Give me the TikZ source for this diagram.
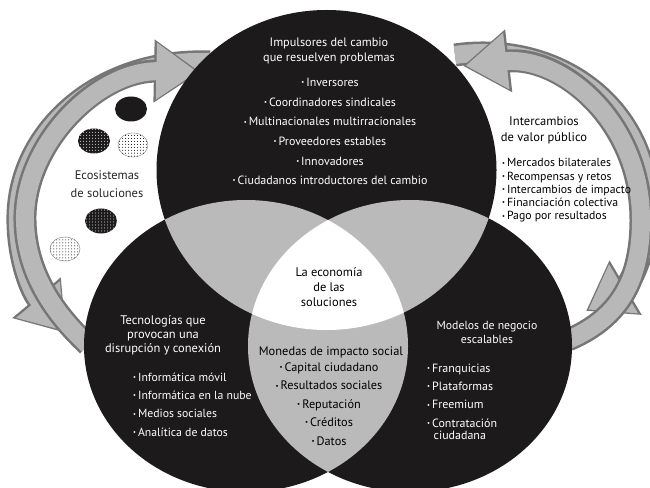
\documentclass[tikz,border=0pt]{standalone}
\usepackage{fontspec}
\setmainfont{PT Sans}
\usepackage{graphicx}
\usetikzlibrary{arrows.meta, positioning, patterns}
\definecolor{vennblack}{RGB}{28,26,27}
\definecolor{venngrey}{RGB}{186,186,186}
\definecolor{bandfill}{RGB}{184,184,184}
\definecolor{bandline}{RGB}{118,118,118}
\newcommand{\bul}{\raisebox{.3ex}{\scalebox{.55}{\textbullet}}\,}

\begin{document}
\begin{tikzpicture}[x=1bp, y=-1bp,
  band/.style={line width=23bp, draw=bandline, -{Triangle[width=60bp, length=46bp]}},
  bandin/.style={line width=18bp, draw=bandfill, shorten >=2.6bp, -{Triangle[width=54bp, length=41bp]}},
  ontop/.style={text=white, align=center, inner sep=0pt},
  onlight/.style={text=black, align=center, inner sep=0pt},
  title/.style={font=\fontsize{12.3}{15}\selectfont},
  items/.style={font=\fontsize{12}{19.7}\selectfont}]

\useasboundingbox[fill=white] (0,0) rectangle (650,488);

\coordinate (top) at (326.5,170);
\coordinate (left) at (246,346);
\coordinate (right) at (410,346);

% arrows behind the circles
\coordinate (lb1) at (210,62);
\coordinate (lb2) at (66,333);
\coordinate (la1) at (88,345);
\coordinate (la2) at (200,72);
\draw[band] (lb1) .. controls (100,58) and (20,130) .. (18,215) .. controls (17,255) and (30,290) .. (lb2);
\draw[bandin] (lb1) .. controls (100,58) and (20,130) .. (18,215) .. controls (17,255) and (30,290) .. (lb2);
\draw[band] (la1) .. controls (45,305) and (24,262) .. (25,215) .. controls (27,140) and (100,70) .. (la2);
\draw[bandin] (la1) .. controls (45,305) and (24,262) .. (25,215) .. controls (27,140) and (100,70) .. (la2);

\coordinate (rb1) at (455,55);
\coordinate (rb2) at (586,311);
\coordinate (ra1) at (568,340);
\coordinate (ra2) at (463,66);
\draw[band] (rb1) .. controls (560,40) and (650,110) .. (648,210) .. controls (648,250) and (630,285) .. (rb2);
\draw[bandin] (rb1) .. controls (560,40) and (650,110) .. (648,210) .. controls (648,250) and (630,285) .. (rb2);
\draw[band] (ra1) .. controls (615,320) and (641,285) .. (641,220) .. controls (641,120) and (560,55) .. (ra2);
\draw[bandin] (ra1) .. controls (615,320) and (641,285) .. (641,220) .. controls (641,120) and (560,55) .. (ra2);

% the three circles
\fill[vennblack] (top) ellipse [x radius=170bp, y radius=160bp];
\fill[vennblack] (left) ellipse [x radius=162bp, y radius=146bp];
\fill[vennblack] (right) ellipse [x radius=162bp, y radius=146bp];
\begin{scope}
  \clip (left) ellipse [x radius=162bp, y radius=146bp];
  \fill[venngrey] (right) ellipse [x radius=162bp, y radius=146bp];
\end{scope}
\begin{scope}
  \clip (top) ellipse [x radius=170bp, y radius=160bp];
  \fill[venngrey] (left) ellipse [x radius=162bp, y radius=146bp];
  \fill[venngrey] (right) ellipse [x radius=162bp, y radius=146bp];
  \clip (left) ellipse [x radius=162bp, y radius=146bp];
  \fill[white] (right) ellipse [x radius=162bp, y radius=146bp];
\end{scope}

% small ecosystems
\fill[vennblack] (131,109) ellipse [x radius=16bp, y radius=12.5bp];
\fill[vennblack, postaction={pattern=dots, pattern color=white}] (94,141) ellipse [x radius=16bp, y radius=12.5bp];
\filldraw[draw=gray, fill=white, postaction={pattern=dots, pattern color=black}] (133,145) ellipse [x radius=15bp, y radius=12bp];
\fill[vennblack, postaction={pattern=dots, pattern color=white}] (101,221) ellipse [x radius=16bp, y radius=12.5bp];
\filldraw[draw=gray, fill=white, postaction={pattern=dots, pattern color=black}] (65,249) ellipse [x radius=15bp, y radius=12bp];

% texts
\node[ontop, title] (impulsores) at (329,50.5) {Impulsores del cambio\\que resuelven problemas};
\node[ontop, items] (actores) at (330,131.5) {\bul Inversores\\\bul Coordinadores sindicales\\\bul Multinacionales multirracionales\\\bul Proveedores estables\\\bul Innovadores\\\bul Ciudadanos introductores del cambio};

\node[onlight, text=black!85, font=\fontsize{12.5}{18}\selectfont] (ecosistemas) at (107,184) {Ecosistemas\\de soluciones};

\node[onlight, font=\fontsize{12.6}{15.5}\selectfont] (intercambios) at (544,130.5) {Intercambios\\de valor público};
\node[onlight, align=left, anchor=west, font=\fontsize{11.8}{13.3}\selectfont] (mercados) at (502,190.5) {\bul Mercados bilaterales\\\bul Recompensas y retos\\\bul Intercambios de impacto\\\bul Financiación colectiva\\\bul Pago por resultados};

\node[ontop, font=\fontsize{12.5}{14}\selectfont] (tecnologias) at (163,335) {Tecnologías que\\provocan una\\disrupción y conexión};
\node[ontop, align=left, anchor=west, font=\fontsize{11.8}{18.3}\selectfont] (informatica) at (133,404.5) {\bul Informática móvil\\\bul Informática en la nube\\\bul Medios sociales\\\bul Analítica de datos};

\node[onlight, font=\fontsize{12.5}{15}\selectfont] (economia) at (329,287) {La economía\\de las\\soluciones};

\node[onlight, font=\fontsize{12.5}{15}\selectfont] (monedas) at (331,352) {Monedas de impacto social};
\node[onlight, font=\fontsize{12.3}{18.5}\selectfont] (capital) at (329,404) {\bul Capital ciudadano\\\bul Resultados sociales\\\bul Reputación\\\bul Créditos\\\bul Datos};

\node[ontop, font=\fontsize{11.8}{14}\selectfont] (modelos) at (487,332) {Modelos de negocio\\escalables};
\node[ontop, align=left, anchor=west, font=\fontsize{12}{18.3}\selectfont] (franquicias) at (427,402) {\bul Franquicias\\\bul Plataformas\\\bul Freemium\\\bul Contratación\\[-5.3bp]\hspace*{6.5bp}ciudadana};
\end{tikzpicture}
\end{document}
